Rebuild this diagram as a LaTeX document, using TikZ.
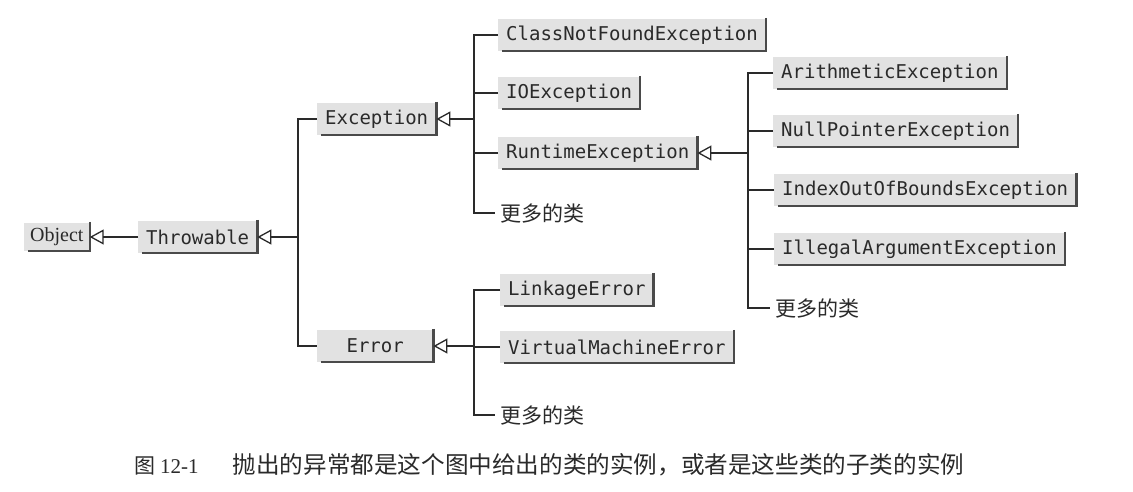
\documentclass[tikz,border=0pt]{standalone}
\usepackage{fontspec}
\setmonofont{DejaVu Sans Mono}
\newfontfamily\cjk{Noto Sans CJK SC}
\newfontfamily\timesf{Liberation Serif}
\usetikzlibrary{arrows.meta}
\definecolor{boxfill}{HTML}{E2E2E2}
\definecolor{ink}{HTML}{2A2A2A}
\definecolor{shade}{HTML}{4A4A4A}
\tikzset{
  cls/.style={fill=boxfill, text=ink, inner xsep=8pt, inner ysep=0pt, minimum height=32pt, anchor=west, font=\fontsize{19}{20}\selectfont\ttfamily},
  wide/.style={minimum width=116pt},
  more/.style={anchor=west, inner sep=0pt, text=ink, font=\fontsize{21}{22}\selectfont\cjk},
  conn/.style={draw=ink, line width=1.3pt},
  inh/.style={conn, -{Triangle[open, length=14pt, width=15pt, line width=1.3pt]}},
  shadowln/.style={draw=shade, line width=2.4pt}
}
\begin{document}
\begin{tikzpicture}[x=1pt,y=-1pt]
\useasboundingbox[fill=white] (0,0) rectangle (1133,491);

% boxes
\node[cls, minimum height=28pt, font=\fontsize{20}{20}\selectfont\timesf, inner xsep=6pt] (obj) at (24,237) {Object};
\node[cls] (thr) at (138,237) {Throwable};
\node[cls, wide] (exc) at (317,119) {Exception};
\node[cls, wide] (err) at (317,346) {Error};
\node[cls] (cnf) at (498,35) {ClassNotFoundException};
\node[cls] (ioe) at (498,93) {IOException};
\node[cls] (rte) at (498,153) {RuntimeException};
\node[more] (more1) at (500,213) {更多的类};
\node[cls] (ari) at (773,73) {ArithmeticException};
\node[cls] (npe) at (773,131) {NullPointerException};
\node[cls] (ioob) at (774,190) {IndexOutOfBoundsException};
\node[cls] (iae) at (774,249) {IllegalArgumentException};
\node[more] (more2) at (775,308) {更多的类};
\node[cls] (lnk) at (500,290) {LinkageError};
\node[cls] (vme) at (500,347) {VirtualMachineError};
\node[more] (more3) at (500,415) {更多的类};

\foreach \n in {obj,thr,exc,err,cnf,ioe,rte,ari,npe,ioob,iae,lnk,vme}{
  \draw[shadowln] ([yshift=1pt]\n.north east) -- (\n.south east) -- ([xshift=4pt]\n.south west);
}

% junctions
\coordinate (j1) at (298,237);
\coordinate (j2) at (474,119);
\coordinate (j3) at (474,346);
\coordinate (j4) at (748,153);

% Throwable -> Object
\draw[inh] (thr.west) -- (obj.east);

% Exception, Error -> Throwable
\draw[inh] (j1) -- (thr.east);
\draw[conn] (exc.west) -- (j1 |- exc.west) -- (j1 |- err.west) -- (err.west);

% Exception children
\draw[inh] (j2) -- (exc.east);
\draw[conn] (cnf.west) -- (j2 |- cnf.west) -- (j2 |- more1.west) -- ([xshift=-5pt]more1.west);
\draw[conn] (ioe.west) -- (j2 |- ioe.west);
\draw[conn] (rte.west) -- (j2 |- rte.west);

% RuntimeException children
\draw[inh] (j4) -- (rte.east);
\draw[conn] (ari.west) -- (j4 |- ari.west) -- (j4 |- more2.west) -- ([xshift=-5pt]more2.west);
\draw[conn] (npe.west) -- (j4 |- npe.west);
\draw[conn] (ioob.west) -- (j4 |- ioob.west);
\draw[conn] (iae.west) -- (j4 |- iae.west);

% Error children
\draw[inh] (j3) -- (err.east);
\draw[conn] (lnk.west) -- (j3 |- lnk.west) -- (j3 |- more3.west) -- ([xshift=-5pt]more3.west);
\draw[conn] (vme.west) -- (j3 |- vme.west);

% caption
\node[anchor=west, inner sep=0pt, text=ink] (cap) at (134,465)
  {{\cjk\fontsize{21}{24}\selectfont 图}\hspace{5pt}{\timesf\fontsize{21}{24}\selectfont 12-1}\hspace{34pt}{\cjk\fontsize{23.6}{24}\selectfont 抛出的异常都是这个图中给出的类的实例，或者是这些类的子类的实例}};
\end{tikzpicture}
\end{document}
